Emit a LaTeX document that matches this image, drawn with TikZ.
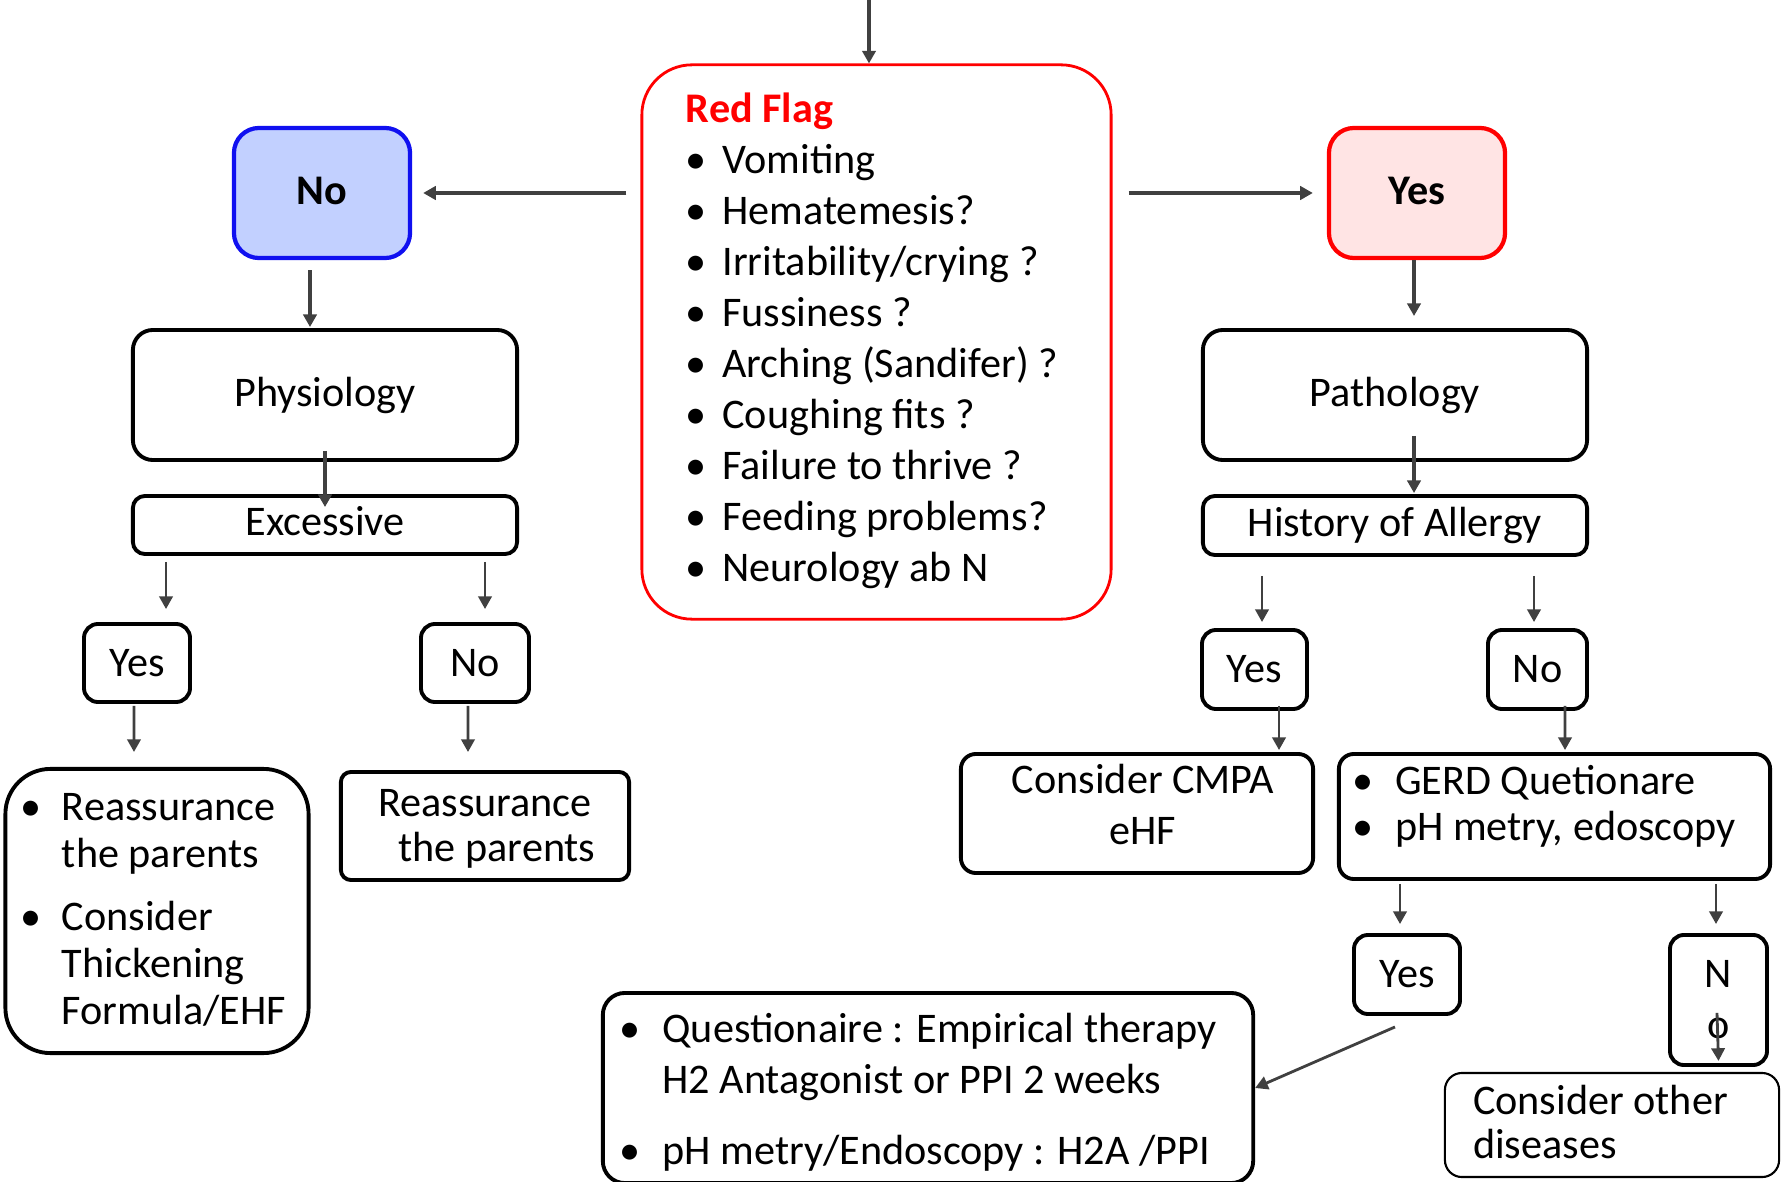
\documentclass[tikz,border=0pt]{standalone}
\usepackage{fontspec}
\setmainfont{Carlito}
\usetikzlibrary{arrows.meta}

\definecolor{arrowgray}{HTML}{404040}
\definecolor{nofill}{HTML}{C2D0FF}
\definecolor{noline}{HTML}{1010F0}
\definecolor{yesfill}{HTML}{FFE4E4}
\definecolor{flagred}{HTML}{FF0000}

\newcommand{\txt}{\fontsize{12}{14.5}\selectfont}
\newcommand{\tightfs}{\fontsize{12}{13.4}\selectfont}
\newcommand{\liftup}[2]{\raisebox{#1}[\height][\depth]{#2}}

\begin{document}
\begin{tikzpicture}[x=0.01cm, y=-0.01cm,
    every node/.style={font=\txt, inner sep=0pt},
    box/.style={draw, line width=1.1pt, rounded corners=0.2cm, align=center},
    choice/.style={box, rounded corners=0.14cm},
    arr/.style={draw=arrowgray, line width=1.1pt, -{Triangle[length=3.6pt, width=3.8pt]}},
    smallarr/.style={arr, line width=0.8pt}]

    \useasboundingbox (0,0) rectangle (1781,1182);

    % Nodes
    \coordinate (top) at (869,0);
    \node[box, draw=flagred, line width=0.8pt, rounded corners=0.5cm, minimum width=4.69cm, minimum height=5.54cm] (flag) at (876.5,342) {%
        \begin{tabular}{@{}p{0.365cm}@{}l@{\hspace{0.09cm}}}
            \multicolumn{2}{@{}l@{\hspace{0.09cm}}}{\textcolor{flagred}{\bfseries Red Flag}}\\
            \textbullet & Vomiting\\
            \textbullet & Hematemesis?\\
            \textbullet & Irritability/crying ?\\
            \textbullet & Fussiness ?\\
            \textbullet & Arching (Sandifer) ?\\
            \textbullet & Coughing fits ?\\
            \textbullet & Failure to thrive ?\\
            \textbullet & Feeding problems?\\
            \textbullet & Neurology ab N
        \end{tabular}};

    \node[box, draw=noline, fill=nofill, line width=1.2pt, rounded corners=0.25cm, minimum width=1.76cm, minimum height=1.3cm, font=\txt\bfseries] (no) at (322,193) {\liftup{0.02cm}{No}};
    \node[box, draw=flagred, fill=yesfill, line width=1.2pt, rounded corners=0.25cm, minimum width=1.76cm, minimum height=1.3cm, font=\txt\bfseries] (yes) at (1417,193) {\liftup{0.02cm}{Yes}};

    % Physiology side
    \node[box, minimum width=3.84cm, minimum height=1.3cm] (phys) at (325,395) {Physiology};
    \node[box, rounded corners=0.12cm, minimum width=3.84cm, minimum height=0.58cm] (exc) at (325,525) {\liftup{0.035cm}{Excessive}};
    \node[choice, minimum width=1.06cm, minimum height=0.78cm] (ey1) at (137,663) {Yes};
    \node[choice, minimum width=1.08cm, minimum height=0.78cm] (en1) at (475,663) {No};
    \node[box, rounded corners=0.45cm, minimum width=3.03cm, minimum height=2.84cm, font=\tightfs] (rl) at (157,911) {%
        \liftup{-0.02cm}{\begin{tabular}{@{}p{0.41cm}@{}l@{\hspace{0.07cm}}}
            \textbullet & Reassurance\\
                        & the parents\\[0.155cm]
            \textbullet & Consider\\
                        & Thickening\\
                        & Formula/EHF
        \end{tabular}}};
    \node[box, rounded corners=0.1cm, minimum width=2.88cm, minimum height=1.08cm, font=\fontsize{12}{12.8}\selectfont] (rm) at (485,826) {%
        \liftup{-0.035cm}{\begin{tabular}{@{}c@{}}Reassurance\\\hspace{0.24cm}the parents\end{tabular}}};

    % Pathology side
    \node[box, minimum width=3.84cm, minimum height=1.3cm] (path) at (1395,395) {Pathology};
    \node[box, rounded corners=0.12cm, minimum width=3.84cm, minimum height=0.59cm] (hist) at (1395,525.5) {History of Allergy};
    \node[choice, minimum width=1.05cm, minimum height=0.79cm] (ey2) at (1254.5,669.5) {Yes};
    \node[choice, minimum width=0.99cm, minimum height=0.79cm] (en2) at (1537.5,669.5) {No};
    \node[box, rounded corners=0.15cm, minimum width=3.52cm, minimum height=1.19cm] (cmpa) at (1137,813.5) {%
        \liftup{0.045cm}{\begin{tabular}{@{\hspace{0.12cm}}c@{}}Consider CMPA\\eHF\end{tabular}}};
    \node[box, rounded corners=0.15cm, minimum width=4.31cm, minimum height=1.25cm, font=\fontsize{12}{13.2}\selectfont] (gerd) at (1554.5,816.5) {%
        \liftup{0.085cm}{\begin{tabular}{@{}p{0.43cm}@{}l@{\hspace{0.21cm}}}
            \textbullet & GERD Quetionare\\
            \textbullet & pH metry, edoscopy
        \end{tabular}}};
    \node[choice, minimum width=1.06cm, minimum height=0.79cm] (ey3) at (1407,974.5) {Yes};
    \node[choice, minimum width=0.97cm, minimum height=1.3cm] (en3) at (1718.5,1000) {N\\o};
    \node[box, line width=0.6pt, rounded corners=0.17cm, minimum width=3.34cm, minimum height=1.04cm, font=\fontsize{12}{12.6}\selectfont] (other) at (1612,1125) {%
        \liftup{-0.025cm}{\begin{tabular}{@{}l@{\hspace{0.23cm}}}Consider other\\diseases\end{tabular}}};
    \node[box, rounded corners=0.22cm, minimum width=6.5cm, minimum height=1.9cm] (quest) at (928,1088) {%
        \liftup{-0.05cm}{\begin{tabular}{@{}p{0.43cm}@{}l@{\hspace{0.2cm}}}
            \textbullet & Questionaire : Empirical therapy\\
                        & H2 Antagonist or PPI 2 weeks\\[0.2cm]
            \textbullet & pH metry/Endoscopy : H2A /PPI
        \end{tabular}}};

    % Edges
    \draw[arr] (top) -- (top |- flag.north);
    \draw[arr, shorten <=0.14cm, shorten >=0.11cm] (flag.west |- no.east) -- (no.east);
    \draw[arr, shorten <=0.16cm, shorten >=0.14cm] (flag.east |- yes.west) -- (yes.west);

    \draw[arr] ([xshift=-0.12cm, yshift=-0.1cm]no.south) -- ([xshift=-0.15cm, yshift=0.01cm]phys.north);
    \draw[arr] ([yshift=0.11cm]phys.south) -- ([yshift=-0.13cm]exc.north);
    \draw[smallarr] ([xshift=0.29cm, yshift=-0.06cm]ey1.north |- exc.south) -- ([xshift=0.29cm, yshift=0.13cm]ey1.north);
    \draw[smallarr] ([xshift=0.1cm, yshift=-0.06cm]en1.north |- exc.south) -- ([xshift=0.1cm, yshift=0.13cm]en1.north);
    \draw[smallarr] ([xshift=-0.03cm, yshift=-0.02cm]ey1.south) -- ([xshift=-0.23cm, yshift=0.15cm]rl.north);
    \draw[smallarr] ([xshift=-0.07cm, yshift=-0.02cm]en1.south) -- ([xshift=-0.17cm, yshift=0.18cm]rm.north);

    \draw[arr] ([xshift=-0.03cm]yes.south) -- ([xshift=0.19cm, yshift=0.12cm]path.north);
    \draw[arr] ([xshift=0.19cm, yshift=0.26cm]path.south) -- ([xshift=0.19cm, yshift=0.01cm]hist.north);
    \draw[smallarr] ([xshift=0.075cm, yshift=-0.19cm]ey2.north |- hist.south) -- ([xshift=0.075cm, yshift=0.06cm]ey2.north);
    \draw[smallarr] ([xshift=-0.035cm, yshift=-0.19cm]en2.north |- hist.south) -- ([xshift=-0.035cm, yshift=0.06cm]en2.north);
    \draw[smallarr] ([xshift=0.245cm, yshift=0.05cm]ey2.south) -- ([xshift=0.245cm, yshift=0.02cm]ey2.south |- cmpa.north);
    \draw[smallarr] ([xshift=0.275cm, yshift=0.05cm]en2.south) -- ([xshift=0.105cm, yshift=0.02cm]gerd.north);
    \draw[smallarr] ([xshift=-0.07cm, yshift=-0.03cm]ey3.north |- gerd.south) -- ([xshift=-0.07cm, yshift=0.09cm]ey3.north);
    \draw[smallarr] ([xshift=-0.025cm, yshift=-0.03cm]en3.north |- gerd.south) -- ([xshift=-0.025cm, yshift=0.09cm]en3.north);
    \draw[smallarr] ([xshift=-0.12cm, yshift=-0.11cm]ey3.south) -- (quest.east);
    \draw[smallarr] ([xshift=-0.015cm, yshift=0.54cm]en3.south) -- ([yshift=0.11cm]other.north -| en3.south);
\end{tikzpicture}
\end{document}
